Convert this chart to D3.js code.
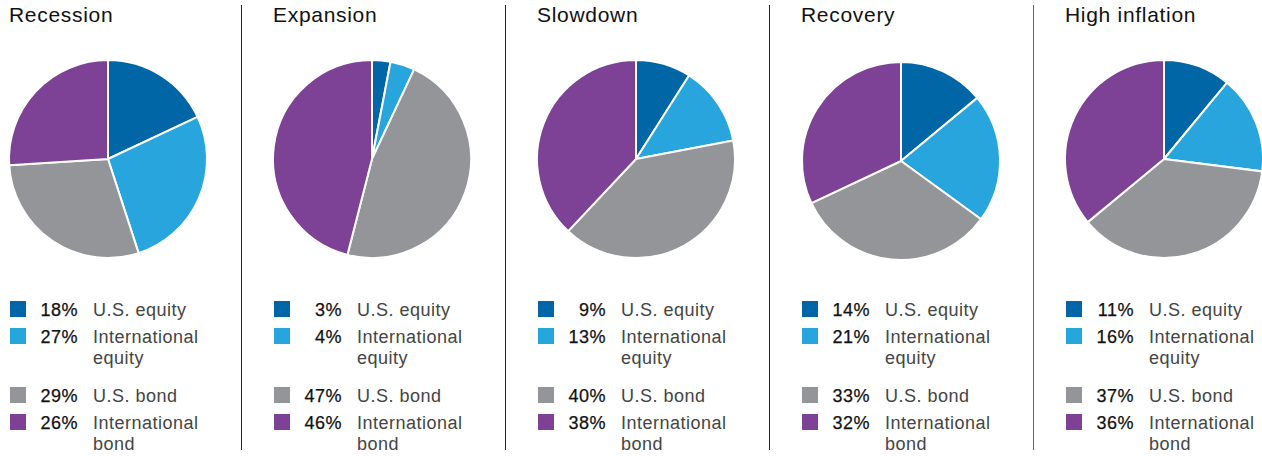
<!DOCTYPE html>
<html><head><meta charset="utf-8">
<script src="https://cdn.jsdelivr.net/npm/d3@7"></script>
<style>body{margin:0;background:#fff}svg{display:block}</style>
</head><body>
<svg id="c" width="1262" height="456"></svg>
<script>
const scenarios = ["Recession", "Expansion", "Slowdown", "Recovery", "High inflation"];
const assets = ["U.S. equity", "International equity", "U.S. bond", "International bond"];
const assetLines = [["U.S. equity"], ["International", "equity"], ["U.S. bond"], ["International", "bond"]];
const usEquity = [18, 3, 9, 14, 11];
const intlEquity = [27, 4, 13, 21, 16];
const usBond = [29, 47, 40, 33, 37];
const intlBond = [26, 46, 38, 32, 36];
const colors = ["#0066a6", "#29a5de", "#939598", "#7d4196"];

const svg = d3.select("#c");
const panelW = 264;
const x = d3.scaleBand().domain(scenarios).range([0, panelW * 5]);
const pie = d3.pie().sort(null).value(d => d);
const arc = d3.arc().innerRadius(0).outerRadius(99);
const font = "'Liberation Sans', Arial, sans-serif";
const rowY = [309, 336, 395, 422];

scenarios.forEach((s, i) => {
  const g = svg.append("g").attr("transform", `translate(${x(s)},0)`);
  const vals = [usEquity[i], intlEquity[i], usBond[i], intlBond[i]];
  g.append("text").attr("x", 9).attr("y", 22).attr("font-family", font)
    .attr("font-size", 21).attr("letter-spacing", 0.7).attr("fill", "#111").text(s);
  const cy = s === "Recovery" ? 161 : 159;
  const cx = s === "Recovery" ? 109 : 108;
  const pg = g.append("g").attr("transform", `translate(${cx},${cy})`);
  pg.selectAll("path").data(pie(vals)).join("path")
    .attr("d", arc).attr("fill", (d, j) => colors[j])
    .attr("stroke", "#fff").attr("stroke-width", 2).attr("stroke-linejoin", "round");
  vals.forEach((v, j) => {
    const y0 = rowY[j];
    g.append("rect").attr("x", 10).attr("y", y0 - 8).attr("width", 16).attr("height", 16).attr("fill", colors[j]);
    g.append("text").attr("x", 78).attr("y", y0 + 7).attr("text-anchor", "end")
      .attr("font-family", font).attr("font-size", 18).attr("letter-spacing", 0.5).attr("fill", "#111")
      .attr("stroke", "#111").attr("stroke-width", 0.25).text(v + "%");
    assetLines[j].forEach((ln, k) => {
      g.append("text").attr("x", 93).attr("y", y0 + 7 + k * 21)
        .attr("font-family", font).attr("font-size", 18).attr("letter-spacing", 0.5)
        .attr("fill", "#444").text(ln);
    });
  });
  if (i < scenarios.length - 1) {
    g.append("line").attr("x1", 241.5).attr("x2", 241.5).attr("y1", 5).attr("y2", 450)
      .attr("stroke", i === 3 ? "#666" : "#222").attr("stroke-width", 1);
  }
});
</script>
</body></html>
